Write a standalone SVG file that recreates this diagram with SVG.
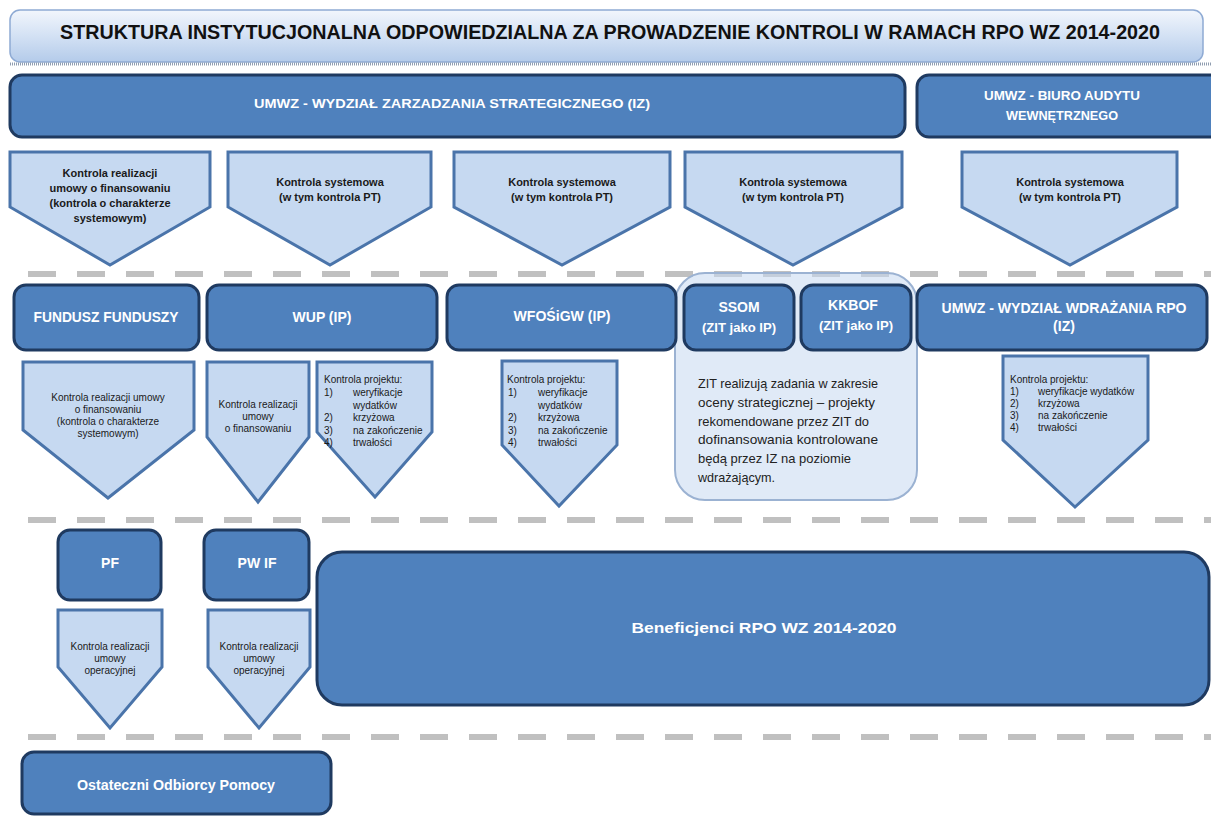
<svg xmlns="http://www.w3.org/2000/svg" width="1211" height="818" viewBox="0 0 1211 818">
<defs>
<linearGradient id="titleGrad" x1="0" y1="0" x2="0" y2="1">
<stop offset="0" stop-color="#f2f6fc"/>
<stop offset="0.5" stop-color="#d3e1f4"/>
<stop offset="1" stop-color="#b4cbea"/>
</linearGradient>
<style>
.box{fill:#4f81bd;stroke:#1f3a60;stroke-width:3}
.pent{fill:#c6d9f1;stroke:#4a74aa;stroke-width:3;stroke-linejoin:miter}
.sep{stroke:#c0c0c0;stroke-width:6;stroke-dasharray:28 21;fill:none}
.t{font-family:"Liberation Sans",Arial,sans-serif}
.wb{font-family:"Liberation Sans",Arial,sans-serif;font-weight:bold;fill:#ffffff;text-anchor:middle}
.pb{font-family:"Liberation Sans",Arial,sans-serif;font-weight:bold;fill:#1a1a1a;text-anchor:middle;font-size:11px}
.pr{font-family:"Liberation Sans",Arial,sans-serif;fill:#1a1a1a;font-size:10px}
.pc{font-family:"Liberation Sans",Arial,sans-serif;fill:#1a1a1a;font-size:10px;text-anchor:middle}
</style>
</defs>
<rect x="0" y="0" width="1211" height="818" fill="#ffffff"/>

<g id="title">
<rect x="10" y="10" width="1193" height="52" rx="10" fill="url(#titleGrad)" stroke="#8eaad4" stroke-width="1.5"/>
<line x1="10" y1="64" x2="1211" y2="64" stroke="#8f9db0" stroke-width="3" stroke-dasharray="1 1"/>
<text class="t" x="610" y="39" font-size="19.5" font-weight="bold" fill="#111" text-anchor="middle" textLength="1100" lengthAdjust="spacingAndGlyphs">STRUKTURA INSTYTUCJONALNA ODPOWIEDZIALNA ZA PROWADZENIE KONTROLI W RAMACH RPO WZ 2014-2020</text>
</g>

<g id="separators">
<line class="sep" x1="28" y1="274" x2="1211" y2="274"/>
<line class="sep" x1="28" y1="520" x2="1211" y2="520"/>
<line class="sep" x1="28" y1="737" x2="1211" y2="737"/>
</g>

<g id="connectors"></g>

<g id="umwz-iz">
<rect class="box" x="10" y="75" width="895" height="62" rx="12"/>
<text class="wb" x="452" y="108" font-size="13.5" textLength="396" lengthAdjust="spacingAndGlyphs">UMWZ - WYDZIAŁ ZARZADZANIA STRATEGICZNEGO (IZ)</text>
</g>

<g id="umwz-biuro">
<rect class="box" x="917" y="75" width="310" height="62" rx="12"/>
<text class="wb" x="1062" y="100" font-size="13.5" textLength="156" lengthAdjust="spacingAndGlyphs">UMWZ - BIURO AUDYTU</text>
<text class="wb" x="1062" y="120" font-size="13.5" textLength="112" lengthAdjust="spacingAndGlyphs">WEWNĘTRZNEGO</text>
</g>

<g id="k1">
<polygon class="pent" points="10,152 210,152 210,207 110,265 10,207"/>
<text class="pb" x="110" y="177">Kontrola realizacji</text>
<text class="pb" x="110" y="192">umowy o finansowaniu</text>
<text class="pb" x="110" y="207">(kontrola o charakterze</text>
<text class="pb" x="110" y="222">systemowym)</text>
</g>
<g id="k2">
<polygon class="pent" points="228,152 431,152 431,207 330,265 228,207"/>
<text class="pb" x="330" y="186">Kontrola systemowa</text>
<text class="pb" x="330" y="201">(w tym kontrola PT)</text>
</g>
<g id="k3">
<polygon class="pent" points="454,152 670,152 670,207 562,265 454,207"/>
<text class="pb" x="562" y="186">Kontrola systemowa</text>
<text class="pb" x="562" y="201">(w tym kontrola PT)</text>
</g>
<g id="k4">
<polygon class="pent" points="685,152 902,152 902,207 793,265 685,207"/>
<text class="pb" x="793" y="186">Kontrola systemowa</text>
<text class="pb" x="793" y="201">(w tym kontrola PT)</text>
</g>
<g id="k5">
<polygon class="pent" points="962,152 1177,152 1177,207 1070,265 962,207"/>
<text class="pb" x="1070" y="186">Kontrola systemowa</text>
<text class="pb" x="1070" y="201">(w tym kontrola PT)</text>
</g>

<g id="zit">
<rect x="675" y="273" width="242" height="227" rx="30" fill="#c6d9f1" fill-opacity="0.55" stroke="#9bb2d2" stroke-width="2"/>
<text class="t" x="698" y="388" font-size="13.5" fill="#222" textLength="180" lengthAdjust="spacingAndGlyphs">ZIT realizują zadania w zakresie</text>
<text class="t" x="698" y="407" font-size="13.5" fill="#222" textLength="177" lengthAdjust="spacingAndGlyphs">oceny strategicznej –  projekty</text>
<text class="t" x="698" y="426" font-size="13.5" fill="#222" textLength="171" lengthAdjust="spacingAndGlyphs">rekomendowane przez ZIT do</text>
<text class="t" x="698" y="444" font-size="13.5" fill="#222" textLength="180" lengthAdjust="spacingAndGlyphs">dofinansowania kontrolowane</text>
<text class="t" x="698" y="463" font-size="13.5" fill="#222" textLength="153" lengthAdjust="spacingAndGlyphs">będą przez IZ na poziomie</text>
<text class="t" x="698" y="482" font-size="13.5" fill="#222" textLength="77" lengthAdjust="spacingAndGlyphs">wdrażającym.</text>
</g>

<g id="fundusz-funduszy">
<rect class="box" x="14" y="285" width="185" height="65" rx="12"/>
<text class="wb" x="106" y="322" font-size="14" textLength="145" lengthAdjust="spacingAndGlyphs">FUNDUSZ FUNDUSZY</text>
</g>
<g id="wup">
<rect class="box" x="207" y="285" width="230" height="65" rx="12"/>
<text class="wb" x="322" y="322" font-size="14">WUP (IP)</text>
</g>
<g id="wfosigw">
<rect class="box" x="447" y="285" width="229" height="65" rx="12"/>
<text class="wb" x="562" y="321" font-size="14" textLength="97" lengthAdjust="spacingAndGlyphs">WFOŚiGW (IP)</text>
</g>
<g id="ssom">
<rect class="box" x="684" y="285" width="110" height="65" rx="12"/>
<text class="wb" x="739" y="312" font-size="14">SSOM</text>
<text class="wb" x="739" y="332" font-size="13" textLength="74" lengthAdjust="spacingAndGlyphs">(ZIT jako IP)</text>
</g>
<g id="kkbof">
<rect class="box" x="801" y="285" width="110" height="65" rx="12"/>
<text class="wb" x="853" y="310" font-size="14">KKBOF</text>
<text class="wb" x="856" y="330" font-size="13" textLength="74" lengthAdjust="spacingAndGlyphs">(ZIT jako IP)</text>
</g>
<g id="umwz-wdrazania">
<rect class="box" x="917" y="285" width="290" height="65" rx="12"/>
<text class="wb" x="1064" y="313" font-size="14" textLength="245" lengthAdjust="spacingAndGlyphs">UMWZ - WYDZIAŁ WDRAŻANIA RPO</text>
<text class="wb" x="1064" y="331" font-size="14">(IZ)</text>
</g>

<g id="k-ff">
<polygon class="pent" points="23,362 194,362 194,430 108,498 23,430"/>
<text class="pc" x="108" y="401">Kontrola realizacji umowy</text>
<text class="pc" x="108" y="413">o finansowaniu</text>
<text class="pc" x="108" y="425">(kontrola o charakterze</text>
<text class="pc" x="108" y="437">systemowym)</text>
</g>
<g id="k-wup-umowa">
<polygon class="pent" points="207,362 309,362 309,437 258,502 207,437"/>
<text class="pc" x="258" y="408">Kontrola realizacji</text>
<text class="pc" x="258" y="420">umowy</text>
<text class="pc" x="258" y="432">o finansowaniu</text>
</g>
<g id="k-wup-projekt">
<polygon class="pent" points="317,362 432,362 432,432 375,497 317,432"/>
<text class="pr" x="324" y="383">Kontrola projektu:</text>
<text class="pr" x="324" y="396">1)</text><text class="pr" x="353" y="396">weryfikacje</text>
<text class="pr" x="353" y="409">wydatków</text>
<text class="pr" x="324" y="421">2)</text><text class="pr" x="353" y="421">krzyżowa</text>
<text class="pr" x="324" y="434">3)</text><text class="pr" x="353" y="434">na zakończenie</text>
<text class="pr" x="324" y="446">4)</text><text class="pr" x="353" y="446">trwałości</text>
</g>
<g id="k-wfosigw">
<polygon class="pent" points="502,361 617,361 617,445 559,506 502,445"/>
<text class="pr" x="507" y="383">Kontrola projektu:</text>
<text class="pr" x="508" y="396">1)</text><text class="pr" x="538" y="396">weryfikacje</text>
<text class="pr" x="538" y="409">wydatków</text>
<text class="pr" x="508" y="421">2)</text><text class="pr" x="538" y="421">krzyżowa</text>
<text class="pr" x="508" y="434">3)</text><text class="pr" x="538" y="434">na zakończenie</text>
<text class="pr" x="508" y="446">4)</text><text class="pr" x="538" y="446">trwałości</text>
</g>
<g id="k-wdrazania">
<polygon class="pent" points="1003,356 1148,356 1148,440 1075,507 1003,440"/>
<text class="pr" x="1010" y="383">Kontrola projektu:</text>
<text class="pr" x="1010" y="395">1)</text><text class="pr" x="1038" y="395">weryfikacje wydatków</text>
<text class="pr" x="1010" y="407">2)</text><text class="pr" x="1038" y="407">krzyżowa</text>
<text class="pr" x="1010" y="419">3)</text><text class="pr" x="1038" y="419">na zakończenie</text>
<text class="pr" x="1010" y="431">4)</text><text class="pr" x="1038" y="431">trwałości</text>
</g>

<g id="pf">
<rect class="box" x="58" y="530" width="103" height="70" rx="12"/>
<text class="wb" x="110" y="568" font-size="14">PF</text>
</g>
<g id="pwif">
<rect class="box" x="204" y="530" width="105" height="70" rx="12"/>
<text class="wb" x="257" y="568" font-size="14">PW IF</text>
</g>
<g id="k-pf">
<polygon class="pent" points="58,610 162,610 162,667 110,728 58,667"/>
<text class="pc" x="110" y="650">Kontrola realizacji</text>
<text class="pc" x="110" y="662">umowy</text>
<text class="pc" x="110" y="674">operacyjnej</text>
</g>
<g id="k-pwif">
<polygon class="pent" points="208,610 310,610 310,667 259,728 208,667"/>
<text class="pc" x="259" y="650">Kontrola realizacji</text>
<text class="pc" x="259" y="662">umowy</text>
<text class="pc" x="259" y="674">operacyjnej</text>
</g>
<g id="beneficjenci">
<rect class="box" x="317" y="552" width="892" height="153" rx="25"/>
<text class="wb" x="764" y="633" font-size="15" textLength="265" lengthAdjust="spacingAndGlyphs">Beneficjenci RPO WZ 2014-2020</text>
</g>
<g id="ostateczni-odbiorcy">
<rect class="box" x="22" y="752" width="309" height="62" rx="12"/>
<text class="wb" x="176" y="790" font-size="14.5" textLength="198" lengthAdjust="spacingAndGlyphs">Ostateczni Odbiorcy Pomocy</text>
</g>
</svg>
